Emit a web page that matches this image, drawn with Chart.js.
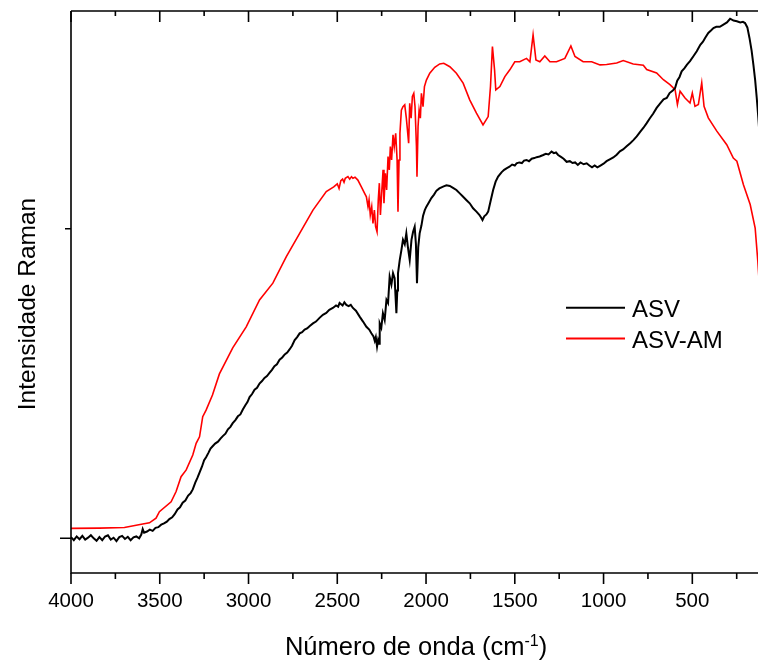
<!DOCTYPE html>
<html lang="pt">
<head>
<meta charset="utf-8">
<title>Espectro Raman</title>
<script src="https://cdn.jsdelivr.net/npm/chart.js@4.4.1/dist/chart.umd.min.js"></script>
<style>
  html, body { margin: 0; padding: 0; background: #fff; overflow: hidden; }
  #wrap { position: relative; width: 758px; height: 665px; }
</style>
</head>
<body>
<div id="wrap"><canvas id="raman-chart"></canvas></div>
<script>
// Número de onda (cm-1) e intensidade (u.a.)
const redWave = [4000, 3840, 3699, 3596, 3558, 3521, 3502, 3436, 3408, 3380, 3351, 3314, 3295, 3276, 3258, 3239, 3203, 3164, 3089, 3013, 2938, 2863, 2787, 2712, 2637, 2562, 2520, 2500, 2490, 2480, 2470, 2462, 2455, 2440, 2430, 2420, 2412, 2400, 2384, 2365, 2346, 2336, 2327, 2321, 2314, 2306, 2299, 2291, 2284, 2276, 2269, 2263, 2257, 2250, 2242, 2237, 2229, 2222, 2214, 2207, 2201, 2194, 2186, 2179, 2171, 2163, 2158, 2152, 2147, 2139, 2130, 2120, 2111, 2103, 2098, 2092, 2084, 2077, 2069, 2062, 2054, 2051, 2045, 2039, 2032, 2026, 2017, 2009, 1998, 1979, 1951, 1923, 1900, 1866, 1829, 1791, 1754, 1716, 1679, 1650, 1637, 1626, 1614, 1607, 1584, 1556, 1528, 1500, 1472, 1434, 1415, 1397, 1381, 1359, 1331, 1302, 1265, 1218, 1184, 1161, 1115, 1067, 1020, 983, 926, 889, 833, 776, 757, 701, 663, 626, 597, 584, 569, 541, 513, 500, 485, 466, 447, 434, 410, 362, 306, 269, 249, 212, 174, 146, 131, 120];
const redVal = [0.032, 0.033, 0.035, 0.046, 0.050, 0.065, 0.086, 0.118, 0.151, 0.199, 0.221, 0.269, 0.307, 0.328, 0.393, 0.414, 0.463, 0.531, 0.615, 0.683, 0.770, 0.824, 0.910, 0.985, 1.060, 1.120, 1.135, 1.145, 1.130, 1.155, 1.160, 1.150, 1.163, 1.168, 1.160, 1.168, 1.163, 1.166, 1.157, 1.136, 1.114, 1.103, 1.071, 1.093, 1.044, 1.071, 1.017, 1.060, 1.007, 0.990, 1.093, 1.147, 1.044, 1.114, 1.190, 1.082, 1.179, 1.125, 1.233, 1.190, 1.265, 1.222, 1.303, 1.265, 1.308, 1.222, 1.055, 1.222, 1.308, 1.383, 1.394, 1.400, 1.357, 1.308, 1.276, 1.405, 1.357, 1.427, 1.437, 1.394, 1.265, 1.168, 1.330, 1.383, 1.357, 1.437, 1.394, 1.459, 1.480, 1.502, 1.521, 1.532, 1.534, 1.523, 1.502, 1.470, 1.416, 1.373, 1.335, 1.362, 1.459, 1.588, 1.513, 1.448, 1.459, 1.491, 1.513, 1.539, 1.539, 1.550, 1.539, 1.626, 1.545, 1.539, 1.558, 1.539, 1.539, 1.550, 1.590, 1.556, 1.539, 1.539, 1.529, 1.530, 1.535, 1.543, 1.532, 1.528, 1.514, 1.503, 1.481, 1.465, 1.449, 1.401, 1.444, 1.422, 1.406, 1.438, 1.395, 1.401, 1.471, 1.395, 1.358, 1.315, 1.271, 1.228, 1.218, 1.142, 1.078, 1.002, 0.895, 0.80];

const blackWave = [4000, 3984, 3968, 3952, 3936, 3920, 3904, 3888, 3872, 3856, 3840, 3824, 3808, 3792, 3776, 3760, 3744, 3728, 3712, 3696, 3680, 3664, 3648, 3632, 3616, 3604, 3596, 3588, 3572, 3556, 3540, 3524, 3508, 3492, 3476, 3460, 3446, 3430, 3416, 3400, 3386, 3371, 3356, 3340, 3326, 3314, 3300, 3288, 3276, 3262, 3250, 3239, 3226, 3214, 3201, 3188, 3172, 3158, 3145, 3130, 3116, 3102, 3089, 3074, 3060, 3046, 3032, 3018, 3006, 2994, 2980, 2966, 2952, 2938, 2924, 2910, 2896, 2882, 2868, 2854, 2840, 2825, 2810, 2796, 2782, 2769, 2755, 2740, 2726, 2712, 2698, 2684, 2670, 2655, 2637, 2620, 2600, 2581, 2562, 2545, 2525, 2507, 2495, 2487, 2470, 2460, 2449, 2436, 2424, 2412, 2395, 2374, 2355, 2336, 2320, 2308, 2296, 2289, 2283, 2276, 2270, 2264, 2261, 2252, 2243, 2233, 2223, 2214, 2205, 2195, 2186, 2177, 2167, 2162, 2158, 2148, 2139, 2130, 2120, 2111, 2102, 2092, 2082, 2073, 2064, 2057, 2051, 2044, 2036, 2026, 2017, 2007, 1998, 1985, 1970, 1955, 1941, 1925, 1904, 1885, 1866, 1848, 1829, 1810, 1791, 1772, 1754, 1735, 1716, 1700, 1690, 1682, 1672, 1660, 1650, 1636, 1622, 1608, 1594, 1575, 1560, 1547, 1530, 1515, 1500, 1490, 1475, 1460, 1448, 1434, 1420, 1405, 1390, 1377, 1360, 1340, 1325, 1310, 1293, 1280, 1268, 1256, 1240, 1225, 1208, 1190, 1175, 1160, 1145, 1130, 1112, 1095, 1080, 1065, 1050, 1035, 1020, 1000, 983, 965, 945, 926, 908, 890, 870, 850, 832, 813, 795, 775, 757, 740, 720, 701, 682, 662, 644, 628, 610, 597, 585, 572, 560, 545, 530, 513, 495, 475, 455, 440, 428, 410, 395, 381, 365, 345, 325, 305, 287, 268, 249, 230, 215, 203, 190, 178, 166, 156, 146, 137, 128, 115];
const blackVal = [0.004, -0.006, 0.006, -0.003, 0.008, -0.004, 0.002, 0.010, 0.0, -0.008, 0.004, -0.006, 0.006, 0.010, -0.004, 0.002, -0.009, 0.004, 0.008, -0.002, 0.005, -0.006, 0.003, 0.006, 0.0, 0.012, 0.030, 0.018, 0.022, 0.028, 0.024, 0.034, 0.036, 0.044, 0.048, 0.054, 0.062, 0.068, 0.078, 0.093, 0.100, 0.115, 0.122, 0.138, 0.146, 0.158, 0.180, 0.195, 0.212, 0.232, 0.252, 0.262, 0.276, 0.290, 0.298, 0.306, 0.312, 0.322, 0.330, 0.338, 0.352, 0.360, 0.372, 0.382, 0.394, 0.400, 0.416, 0.430, 0.440, 0.456, 0.466, 0.480, 0.486, 0.500, 0.508, 0.518, 0.524, 0.534, 0.544, 0.556, 0.562, 0.577, 0.584, 0.594, 0.600, 0.610, 0.622, 0.640, 0.650, 0.662, 0.666, 0.674, 0.678, 0.686, 0.694, 0.700, 0.712, 0.722, 0.728, 0.738, 0.744, 0.752, 0.748, 0.760, 0.752, 0.762, 0.754, 0.750, 0.754, 0.744, 0.735, 0.716, 0.700, 0.683, 0.674, 0.662, 0.652, 0.638, 0.650, 0.619, 0.640, 0.628, 0.694, 0.680, 0.727, 0.705, 0.770, 0.760, 0.845, 0.820, 0.856, 0.840, 0.727, 0.800, 0.856, 0.899, 0.930, 0.964, 0.950, 0.985, 0.940, 0.899, 0.964, 0.990, 1.006, 0.950, 0.824, 0.940, 0.985, 1.010, 1.041, 1.060, 1.071, 1.084, 1.099, 1.110, 1.123, 1.130, 1.136, 1.140, 1.138, 1.132, 1.125, 1.114, 1.103, 1.092, 1.082, 1.066, 1.055, 1.045, 1.036, 1.028, 1.040, 1.046, 1.055, 1.090, 1.125, 1.152, 1.168, 1.182, 1.190, 1.195, 1.200, 1.207, 1.204, 1.211, 1.214, 1.212, 1.220, 1.222, 1.218, 1.226, 1.228, 1.231, 1.233, 1.238, 1.242, 1.240, 1.249, 1.244, 1.246, 1.238, 1.232, 1.226, 1.216, 1.218, 1.212, 1.214, 1.206, 1.214, 1.208, 1.211, 1.204, 1.198, 1.204, 1.198, 1.203, 1.210, 1.218, 1.224, 1.230, 1.239, 1.250, 1.256, 1.266, 1.276, 1.286, 1.298, 1.312, 1.326, 1.341, 1.356, 1.372, 1.390, 1.404, 1.418, 1.422, 1.438, 1.446, 1.454, 1.478, 1.490, 1.508, 1.518, 1.530, 1.541, 1.556, 1.573, 1.594, 1.604, 1.616, 1.632, 1.640, 1.648, 1.652, 1.652, 1.659, 1.666, 1.678, 1.672, 1.670, 1.666, 1.668, 1.664, 1.650, 1.616, 1.575, 1.530, 1.480, 1.422, 1.358, 1.25];

const seriesLabels = ['ASV', 'ASV-AM'];
const xTickValues = [4000, 3500, 3000, 2500, 2000, 1500, 1000, 500];
const xTitle = 'Número de onda (cm';
const xTitleSup = '-1';
const yTitle = 'Intensidade Raman';

const FONT = '"Liberation Sans", Arial, Helvetica, sans-serif';

document.addEventListener('DOMContentLoaded', function () {
   function toPoints(xs, ys) {
      return xs.map((x, i) => ({ x: x, y: ys[i] }));
   }

   // Moldura, marcas dos eixos, títulos e legenda
   const framePlugin = {
      id: 'frame',
      afterDraw(chart) {
         const ctx = chart.ctx;
         const area = chart.chartArea;
         const xs = chart.scales.x;
         const ys = chart.scales.y;
         ctx.save();
         ctx.strokeStyle = '#000';
         ctx.lineWidth = 1.6;
         ctx.beginPath();
         ctx.moveTo(area.left, area.top);
         ctx.lineTo(chart.width, area.top);
         ctx.moveTo(area.left, area.top);
         ctx.lineTo(area.left, area.bottom);
         ctx.lineTo(chart.width, area.bottom);
         ctx.stroke();

         // marcas do eixo x (baixo para fora, topo para dentro)
         ctx.beginPath();
         for (let v = 4000; v >= 250; v -= 250) {
            const px = xs.getPixelForValue(v);
            const major = v % 500 === 0;
            ctx.moveTo(px, area.bottom);
            ctx.lineTo(px, area.bottom + (major ? 11 : 6));
            ctx.moveTo(px, area.top);
            ctx.lineTo(px, area.top + (major ? 11 : 5));
         }
         // marcas do eixo y
         const y0 = ys.getPixelForValue(0);
         const y1 = ys.getPixelForValue(1);
         ctx.moveTo(area.left, y0);
         ctx.lineTo(area.left - 11, y0);
         ctx.moveTo(area.left, y1);
         ctx.lineTo(area.left - 6, y1);
         ctx.stroke();

         // título do eixo x com sobrescrito
         ctx.fillStyle = '#000';
         ctx.textBaseline = 'alphabetic';
         ctx.textAlign = 'left';
         ctx.font = '25.5px ' + FONT;
         const w1 = ctx.measureText(xTitle).width;
         const w3 = ctx.measureText(')').width;
         ctx.font = '16px ' + FONT;
         const w2 = ctx.measureText(xTitleSup).width;
         const tx = 416 - (w1 + w2 + w3) / 2;
         ctx.font = '25.5px ' + FONT;
         ctx.fillText(xTitle, tx, 655);
         ctx.font = '16px ' + FONT;
         ctx.fillText(xTitleSup, tx + w1, 646);
         ctx.font = '25.5px ' + FONT;
         ctx.fillText(')', tx + w1 + w2, 655);

         // título do eixo y
         ctx.save();
         ctx.translate(35, 304);
         ctx.rotate(-Math.PI / 2);
         ctx.textAlign = 'center';
         ctx.font = '24.5px ' + FONT;
         ctx.fillText(yTitle, 0, 0);
         ctx.restore();

         // legenda
         chart.data.datasets.forEach((ds, i) => {
            const ly = 307.7 + i * 30.8;
            ctx.strokeStyle = ds.borderColor;
            ctx.lineWidth = 2;
            ctx.beginPath();
            ctx.moveTo(566, ly);
            ctx.lineTo(625, ly);
            ctx.stroke();
            ctx.fillStyle = '#000';
            ctx.font = '24px ' + FONT;
            ctx.fillText(ds.label, 632, ly + 9);
         });
         ctx.restore();
      }
   };

   const ctx = document.getElementById('raman-chart').getContext('2d');
   new Chart(ctx, {
      type: 'line',
      data: {
         datasets: [{
               label: seriesLabels[0],
               data: toPoints(blackWave, blackVal),
               borderColor: '#000000',
               borderWidth: 2,
               pointRadius: 0,
               tension: 0
            },
            {
               label: seriesLabels[1],
               data: toPoints(redWave, redVal),
               borderColor: '#ff0000',
               borderWidth: 1.6,
               pointRadius: 0,
               tension: 0
            }
         ]
      },
      options: {
         responsive: true,
         maintainAspectRatio: false,
         animation: false,
         layout: { padding: { top: 11, right: 0, bottom: 0, left: 0 } },
         plugins: {
            legend: { display: false },
            tooltip: { enabled: false }
         },
         scales: {
            x: {
               type: 'linear',
               reverse: true,
               min: 130,
               max: 4000,
               grid: { display: false, drawTicks: false },
               border: { display: false },
               ticks: {
                  stepSize: 250,
                  includeBounds: false,
                  autoSkip: false,
                  maxRotation: 0,
                  padding: 16,
                  color: '#000',
                  font: { family: FONT, size: 20.5 },
                  callback: function (value) {
                     return xTickValues.includes(value) ? String(value) : '';
                  }
               },
               afterFit: function (scale) { scale.height = 92; }
            },
            y: {
               type: 'linear',
               min: -0.112,
               max: 1.703,
               grid: { display: false, drawTicks: false },
               border: { display: false },
               ticks: {
                  stepSize: 1,
                  includeBounds: false,
                  callback: function () { return ''; }
               },
               afterFit: function (scale) { scale.width = 71; }
            }
         }
      },
      plugins: [framePlugin]
   });
});
</script>
</body>
</html>
